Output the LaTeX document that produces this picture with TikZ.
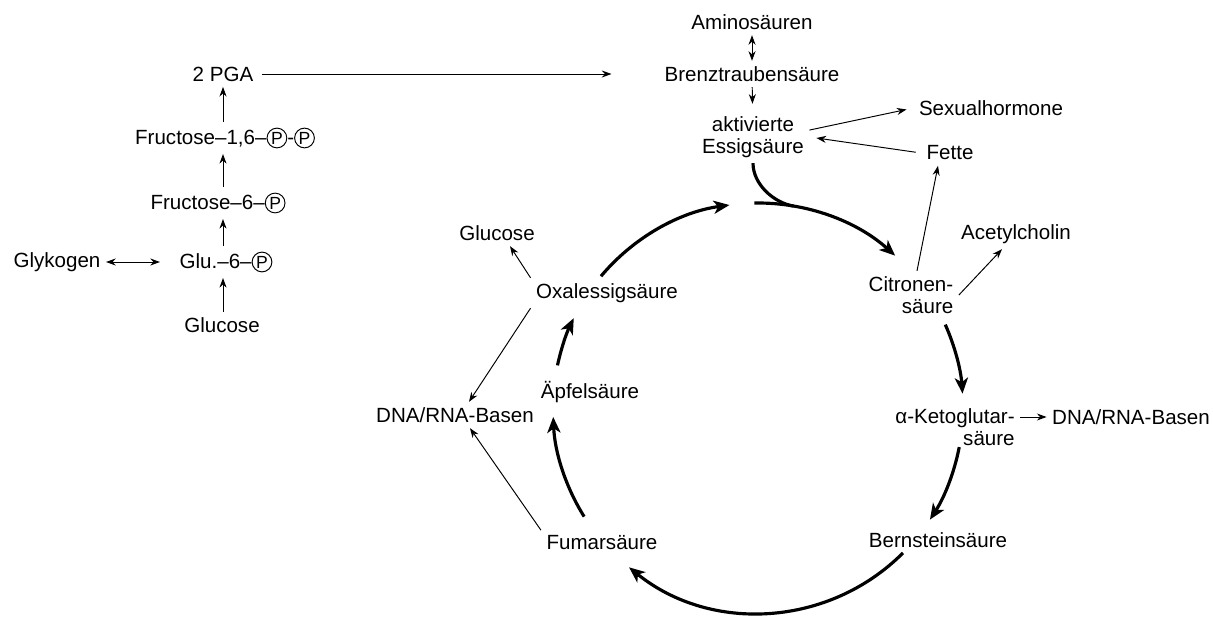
\documentclass[tikz,border=0pt]{standalone}
\usepackage{fontspec}
\setmainfont{Liberation Sans}
\usetikzlibrary{arrows.meta}

\tikzset{
  lbl/.style={font=\fontsize{11.7}{12.5}\selectfont, inner sep=3pt},
  phosring/.style={circle, draw, line width=0.55pt, inner sep=0.6pt,
    font=\fontsize{10}{10}\selectfont},
  thinarrow/.style={line width=0.55pt, -{Stealth[length=5.5pt,width=4pt]}},
  bothway/.style={line width=0.55pt,
    {Stealth[length=5.5pt,width=4pt]}-{Stealth[length=5.5pt,width=4pt]}},
  cycarrow/.style={line width=1.8pt, -{Stealth[length=9pt,width=7.5pt,inset=2.5pt]}}
}
\newcommand{\phos}{\tikz[baseline=(p.base)]\node[phosring](p){P};}

\begin{document}
\begin{tikzpicture}[x=0.02cm,y=0.02cm]
  \useasboundingbox (0,0) rectangle (1213,616);

  % glycolysis
  \node[lbl] (pga) at (223,542) {2 PGA};
  \node[lbl] (f16) at (225,478) {Fructose–1,6–\phos-\phos};
  \node[lbl] (f6) at (218,413) {Fructose–6–\phos};
  \node[lbl] (g6) at (226,354) {Glu.–6–\phos};
  \node[lbl] (glc) at (222,291) {Glucose};
  \node[lbl] (glyk) at (57,354) {Glykogen};

  % top
  \node[lbl] (amino) at (752,594) {Aminosäuren};
  \node[lbl] (brenz) at (752,542) {Brenztraubensäure};
  \node[lbl,align=center] (essig) at (753,479) {aktivierte\\Essigsäure};
  \node[lbl] (sexual) at (991,508) {Sexualhormone};
  \node[lbl] (fette) at (950,463) {Fette};

  % cycle members
  \node[lbl,align=right] (citro) at (911,321) {Citronen-\\säure};
  \node[lbl] (acetyl) at (1016,382) {Acetylcholin};
  \node[lbl,align=right] (keto) at (955,189) {α-Ketoglutar-\\säure};
  \node[lbl] (dnar) at (1131,199) {DNA/RNA-Basen};
  \node[lbl] (bern) at (938,76) {Bernsteinsäure};
  \node[lbl] (fumar) at (602,73) {Fumarsäure};
  \node[lbl] (apfel) at (590,224) {Äpfelsäure};
  \node[lbl] (oxal) at (607,323) {Oxalessigsäure};
  \node[lbl] (glc2) at (497,383) {Glucose};
  \node[lbl] (dnal) at (455,201) {DNA/RNA-Basen};

  % thin connectors
  \draw[thinarrow,shorten <=2pt,shorten >=0.95cm] (pga.east) -- (pga.east -| brenz.west);
  \draw[thinarrow] (f16.north -| pga) -- (pga.south);
  \draw[thinarrow] (f6.north -| pga) -- (f16.south -| pga);
  \draw[thinarrow] (g6.north -| pga) -- (f6.south -| pga);
  \draw[thinarrow] (glc.north -| pga) -- (g6.south -| pga);
  \draw[bothway,shorten >=8pt] (glyk) -- (g6);
  \draw[bothway] (amino) -- (brenz);
  \draw[thinarrow,shorten >=4pt] (brenz) -- (essig);
  \draw[thinarrow,shorten >=4pt] (essig.7) -- (sexual.west);
  \draw[thinarrow,shorten <=3pt,shorten >=4pt] (fette.west) -- (essig.east);
  \draw[thinarrow] ([xshift=0.12cm]citro.north) -- ([xshift=-0.24cm]fette.south);
  \draw[thinarrow] (citro.east) -- ([xshift=-0.28cm]acetyl.south);
  \draw[thinarrow] (dnar.west -| keto.east) -- (dnar.west);
  \draw[thinarrow] (oxal.north west) -- ([xshift=0.26cm]glc2.south);
  \draw[thinarrow] (oxal.south west) -- ([xshift=0.28cm]dnal.north);
  \draw[thinarrow] (fumar.north west) -- ([xshift=0.3cm]dnal.south);

  % citric acid cycle
  \coordinate (cyc) at (758,208);
  \coordinate (join) at ([shift={(80:205)}]cyc);
  \draw[cycarrow] ([shift={(140:205)}]cyc) arc[start angle=140, end angle=98, radius=4.1cm];
  \draw[cycarrow] ([shift={(91:205)}]cyc) arc[start angle=91, end angle=48, radius=4.1cm];
  \draw[cycarrow] ([shift={(24:205)}]cyc) arc[start angle=24, end angle=4, radius=4.1cm];
  \draw[cycarrow] ([shift={(-11:205)}]cyc) arc[start angle=-11, end angle=-33, radius=4.1cm];
  \draw[cycarrow] ([shift={(-45:205)}]cyc) arc[start angle=-45, end angle=-129, radius=4.1cm];
  \draw[cycarrow] ([shift={(212:205)}]cyc) arc[start angle=212, end angle=182.5, radius=4.1cm];
  \draw[cycarrow] ([shift={(168:205)}]cyc) arc[start angle=168, end angle=154, radius=4.1cm];
  \draw[line width=1.8pt] (essig.south) .. controls +(0,-21) and +(-20,3.4) .. (join);
\end{tikzpicture}
\end{document}
